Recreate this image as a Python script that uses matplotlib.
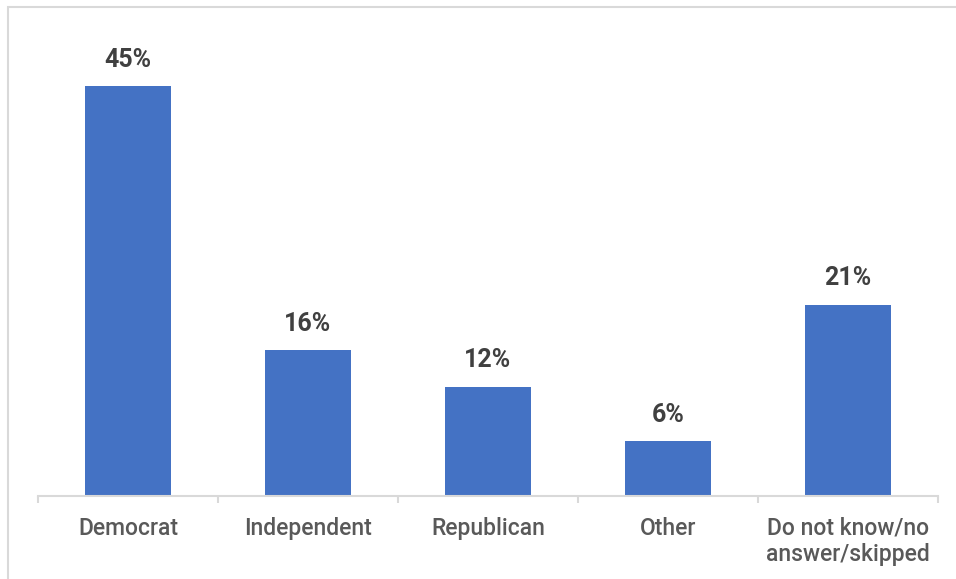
import matplotlib
matplotlib.use("Agg")
import matplotlib.pyplot as plt
from matplotlib.patches import Rectangle

categories = ["Democrat", "Independent", "Republican", "Other", "Do not know/no\nanswer/skipped"]
values = [45, 16, 12, 6, 21]
value_labels = ["45%", "16%", "12%", "6%", "21%"]

W, H = 956, 579
fig = plt.figure(figsize=(W / 100, H / 100), dpi=100)
fig.patch.set_facecolor("white")

fig.patches.append(Rectangle((8 / W, -0.05), 1.2, (H - 7) / H + 0.05,
                             transform=fig.transFigure, fill=False,
                             edgecolor="#d9d9d9", linewidth=1.5, zorder=0))

ax = fig.add_axes([38 / W, 83 / H, 900 / W, 476 / H])
x = list(range(len(categories)))
ax.bar(x, values, width=0.475, color="#4472C4", zorder=2)
ax.set_xlim(-0.5, len(categories) - 0.5)
ax.set_ylim(0, 476 / 9.1)

for s in ["top", "right", "left"]:
    ax.spines[s].set_visible(False)
ax.spines["bottom"].set_color("#d9d9d9")
ax.spines["bottom"].set_linewidth(1.5)
ax.set_yticks([])
ax.set_xticks([i - 0.5 for i in range(len(categories) + 1)])
ax.set_xticklabels([])
ax.tick_params(axis="x", length=5, width=1.5, color="#d9d9d9", direction="out")

for i, (v, lab) in enumerate(zip(values, value_labels)):
    ax.annotate(lab, xy=(i, v), xytext=(0, 14), textcoords="offset points",
                ha="center", va="baseline", fontsize=18, fontweight="semibold",
                color="#404040", family="Roboto")

for i, c in enumerate(categories):
    ax.annotate(c, xy=(i, 0), xytext=(0, -15), textcoords="offset points",
                ha="center", va="top", fontsize=16.5, fontweight="medium", color="#595959",
                family="Roboto", linespacing=1.15, annotation_clip=False)

fig.savefig("out.png", dpi=100, facecolor="white")
